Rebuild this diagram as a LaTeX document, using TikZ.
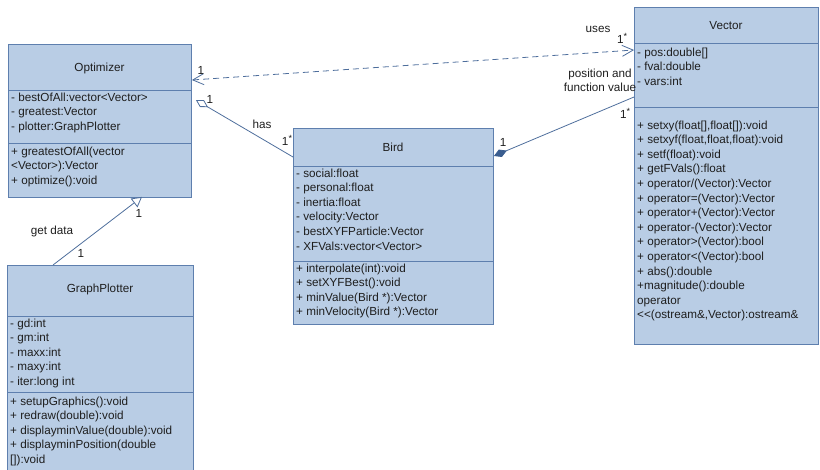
\documentclass[tikz,border=0pt]{standalone}
\usepackage{fontspec}
\setmainfont[Ligatures=NoCommon]{Liberation Sans}
\usetikzlibrary{arrows.meta}
\definecolor{boxfill}{HTML}{B9CDE5}
\definecolor{boxline}{HTML}{5E7FAE}
\definecolor{conncol}{HTML}{4E6E9C}
\definecolor{compfill}{HTML}{3A5D8F}
\definecolor{txt}{HTML}{1E1E1E}
\newcommand\fsz{\fontsize{11.7pt}{14pt}\selectfont}
\newcommand\onestar{1\raisebox{3.5pt}{\fontsize{9pt}{9pt}\selectfont *}}
\begin{document}
\begin{tikzpicture}[x=1pt,y=-1pt,
  classbox/.style={draw=boxline, fill=boxfill, line width=0.9pt, inner sep=0pt, anchor=north west},
  sep/.style={draw=boxline, line width=0.9pt},
  mem/.style={anchor=base west, inner sep=0pt, font=\fsz, text=txt},
  ttl/.style={anchor=base, inner sep=0pt, font=\fsz, text=txt},
  conn/.style={draw=conncol, line width=0.8pt},
  lbl/.style={anchor=base, inner sep=0pt, font=\fsz, text=txt},
  barb/.tip={Straight Barb[length=11pt,width=11pt,line width=0.8pt]},
]
\useasboundingbox (0,0) rectangle (820,469);

% ---------- Optimizer ----------
\node[classbox, minimum width=183pt, minimum height=153pt] (opt) at (8,44) {};
\draw[sep] (8,90) -- (191,90);
\draw[sep] (8,143) -- (191,143);
\node[ttl] (optt) at (99.5,71) {Optimizer};
\foreach \t [count=\i from 0] in {{- bestOfAll:vector<Vector>},{- greatest:Vector},{- plotter:GraphPlotter}}
  \node[mem] (opta\i) at (11,101+14.6*\i) {\t};
\foreach \t [count=\i from 0] in {{+ greatestOfAll(vector},{<Vector>):Vector},{+ optimize():void}}
  \node[mem] (optm\i) at (11,155+14.6*\i) {\t};

% ---------- Bird ----------
\node[classbox, minimum width=200pt, minimum height=196pt] (bird) at (293,128) {};
\draw[sep] (293,166) -- (493,166);
\draw[sep] (293,261) -- (493,261);
\node[ttl] (birdt) at (393,151) {Bird};
\foreach \t [count=\i from 0] in {{- social:float},{- personal:float},{- inertia:float},{- velocity:Vector},{- bestXYFParticle:Vector},{- XFVals:vector<Vector>}}
  \node[mem] (birda\i) at (296,177+14.6*\i) {\t};
\foreach \t [count=\i from 0] in {{+ interpolate(int):void},{+ setXYFBest():void},{+ minValue(Bird *):Vector},{+ minVelocity(Bird *):Vector}}
  \node[mem] (birdm\i) at (296,272+14.6*\i) {\t};

% ---------- Vector ----------
\node[classbox, minimum width=184pt, minimum height=337pt] (vec) at (634,7) {};
\draw[sep] (634,43) -- (818,43);
\draw[sep] (634,107) -- (818,107);
\node[ttl] (vect) at (726,29) {Vector};
\foreach \t [count=\i from 0] in {{- pos:double[]},{- fval:double},{- vars:int}}
  \node[mem] (veca\i) at (637,56+14.6*\i) {\t};
\foreach \t [count=\i from 0] in {{+ setxy(float[],float[]):void},{+ setxyf(float,float,float):void},{+ setf(float):void},{+ getFVals():float},{+ operator/(Vector):Vector},{+ operator=(Vector):Vector},{+ operator+(Vector):Vector},{+ operator-(Vector):Vector},{+ operator>(Vector):bool},{+ operator<(Vector):bool},{+ abs():double},{+magnitude():double},{operator},{<{}<(ostream\&,Vector):ostream\&}}
  \node[mem] (vecm\i) at (637,129+14.6*\i) {\t};

% ---------- GraphPlotter ----------
\node[classbox, minimum width=186pt, minimum height=215pt] (gp) at (7,265) {};
\draw[sep] (7,316) -- (193,316);
\draw[sep] (7,392) -- (193,392);
\node[ttl] (gpt) at (100,292) {GraphPlotter};
\foreach \t [count=\i from 0] in {{- gd:int},{- gm:int},{- maxx:int},{- maxy:int},{- iter:long int}}
  \node[mem] (gpa\i) at (10,327+14.6*\i) {\t};
\foreach \t [count=\i from 0] in {{+ setupGraphics():void},{+ redraw(double):void},{+ displayminValue(double):void},{+ displayminPosition(double},{[]):void}}
  \node[mem] (gpm\i) at (10,405+14.6*\i) {\t};

% ---------- connector end points ----------
\coordinate (optR)  at ([yshift=-36pt]opt.north east);
\coordinate (vecL)  at ([yshift=-43pt]vec.north west);
\coordinate (aggA)  at ([xshift=4pt,yshift=-56pt]opt.north east);
\coordinate (birdL) at ([yshift=-29pt]bird.north west);
\coordinate (birdR) at ([yshift=-28pt]bird.north east);
\coordinate (vecL2) at ([yshift=-90pt]vec.north west);
\coordinate (gpT)   at ([xshift=46pt]gp.north west);
\coordinate (optB)  at ([xshift=134pt,yshift=1pt]opt.south west);

% uses (dashed, both ends open arrows)
\draw[conn, dash pattern=on 6pt off 4pt, {barb}-{barb}] (optR) -- (vecL);
% has (aggregation)
\draw[conn, {Diamond[open,length=14pt,width=8pt,line width=0.8pt]}-] (aggA) -- (birdL);
% position and function value (composition)
\draw[conn, {Diamond[length=14pt,width=8pt,color=compfill,fill=compfill]}-] (birdR) -- (vecL2);
% get data
\draw[conn, -{Triangle[open,length=10pt,width=11pt,line width=0.8pt]}] (gpT) -- (optB);

% ---------- labels ----------
\node[lbl] (l1) at (201,74) {1};
\node[lbl] (l2) at (598,32) {uses};
\node[lbl] (l3) at (622,43) {\onestar};
\node[lbl] (l4) at (210,103) {1};
\node[lbl] (l5) at (262,128) {has};
\node[lbl] (l6) at (287,145) {\onestar};
\node[lbl] (l7) at (503,146) {1};
\node[lbl] (l8) at (625,118) {\onestar};
\node[lbl] (l9) at (600,77) {position and};
\node[lbl] (l10) at (600,91) {function value};
\node[lbl] (l11) at (139,217) {1};
\node[lbl] (l12) at (52,234) {get data};
\node[lbl] (l13) at (81,257) {1};
\end{tikzpicture}
\end{document}
